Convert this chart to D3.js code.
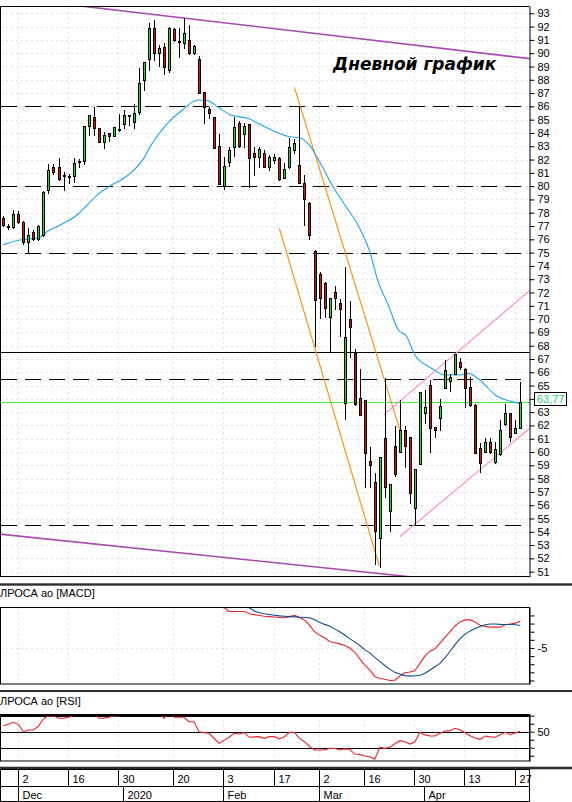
<!DOCTYPE html>
<html>
<head>
<meta charset="utf-8">
<title>АЛРОСА ао - Дневной график</title>
<script src="https://d3js.org/d3.v7.min.js"></script>
<style>
  body { margin: 0; background: #fff; }
  svg text { font-family: "Liberation Sans", Arial, sans-serif; }
</style>
</head>
<body>
<svg id="chart" width="572" height="802"></svg>
<script>
// ---- data (bar index 0 = 27 Nov 2019, 103 = 28 Apr 2020)
var candleOpen = [
  77.63, 76.93, 76.95, 77.88, 77.28, 75.82, 76.57, 76.02, 76.32, 79.71,
  81.46, 81.41, 80.82, 80.69, 80.79, 81.82, 81.89, 84.55, 85.17, 84.35,
  83.34, 83.97, 83.80, 84.28, 84.65, 85.33, 84.85, 85.60, 87.96, 89.54,
  91.87, 90.04, 90.44, 88.73, 91.79, 90.89, 90.74, 90.99, 89.99, 89.54,
  87.06, 85.80, 85.23, 83.02, 80.01, 81.84, 82.97, 84.72, 83.92, 84.67,
  82.47, 82.22, 82.52, 81.41, 81.97, 82.09, 80.59, 81.46, 82.72, 81.59,
  80.21, 78.76, 75.12, 73.37, 72.69, 70.13, 72.01, 71.18, 63.66, 69.98,
  67.47, 64.09, 63.91, 59.33, 57.72, 53.51, 61.03, 55.59, 60.46, 60.03,
  61.66, 61.11, 55.77, 59.10, 62.91, 65.04, 61.86, 62.54, 64.79, 65.34,
  65.84, 66.80, 66.22, 64.92, 63.54, 60.28, 60.03, 60.78, 59.28, 59.85,
  62.11, 62.96, 61.41, 61.78
];
var candleHigh = [
  77.75, 77.13, 78.20, 78.13, 77.38, 76.83, 76.70, 77.08, 79.63, 81.64,
  81.64, 82.09, 81.04, 80.89, 82.09, 82.04, 84.55, 85.35, 85.98, 84.37,
  84.05, 84.00, 84.47, 85.40, 85.73, 85.37, 86.15, 88.86, 89.31, 92.24,
  92.50, 90.62, 90.79, 91.99, 91.87, 91.87, 92.62, 92.12, 90.62, 89.79,
  87.11, 85.98, 85.23, 83.92, 82.22, 82.92, 85.17, 84.92, 84.72, 84.67,
  82.92, 82.92, 82.72, 82.34, 82.42, 82.22, 81.77, 83.60, 83.52, 85.98,
  80.84, 78.83, 75.20, 73.52, 72.82, 71.56, 72.51, 71.51, 73.89, 71.39,
  67.73, 66.22, 63.91, 60.40, 58.40, 59.65, 65.55, 57.60, 61.96, 63.91,
  61.96, 61.11, 58.70, 64.54, 64.67, 65.42, 61.86, 63.96, 66.90, 65.87,
  67.37, 67.05, 66.30, 65.67, 63.61, 60.70, 61.03, 61.03, 60.78, 62.41,
  63.61, 62.96, 62.41, 65.24
];
var candleLow = [
  76.97, 76.77, 76.83, 77.20, 75.67, 75.02, 75.92, 75.97, 76.27, 79.46,
  80.89, 80.46, 79.71, 80.21, 80.29, 81.46, 81.66, 83.85, 83.85, 83.30,
  82.89, 83.40, 83.78, 84.15, 84.35, 84.60, 84.40, 85.40, 87.23, 88.73,
  89.49, 89.04, 88.43, 88.61, 90.94, 89.69, 90.36, 89.94, 89.94, 86.98,
  84.72, 85.10, 82.84, 80.16, 79.76, 81.51, 82.27, 82.92, 82.97, 79.96,
  80.84, 81.41, 81.41, 81.21, 81.77, 80.46, 80.59, 81.34, 82.47, 80.21,
  77.08, 76.02, 67.98, 70.06, 70.13, 67.55, 70.76, 68.75, 62.46, 67.12,
  63.55, 62.79, 57.40, 57.40, 51.60, 51.33, 56.64, 54.09, 58.20, 60.03,
  58.90, 56.14, 54.62, 59.10, 62.16, 60.03, 61.16, 61.66, 64.79, 64.62,
  65.84, 66.22, 63.41, 63.46, 59.90, 58.52, 59.98, 59.95, 59.15, 59.78,
  62.03, 60.86, 61.41, 61.78
];
var candleClose = [
  77.08, 76.97, 77.88, 77.33, 75.77, 76.32, 76.02, 77.03, 79.58, 81.19,
  81.04, 80.51, 80.76, 80.73, 81.72, 81.86, 84.52, 85.35, 84.35, 83.34,
  83.85, 83.80, 84.47, 84.32, 85.35, 85.37, 85.48, 87.78, 89.31, 91.87,
  89.99, 90.36, 88.94, 91.87, 90.99, 90.85, 91.49, 89.99, 90.54, 86.98,
  85.98, 85.48, 82.84, 80.16, 81.51, 82.72, 84.42, 83.02, 84.52, 82.09,
  82.17, 82.77, 81.46, 82.22, 82.22, 80.51, 81.26, 82.97, 83.22, 80.21,
  79.00, 76.32, 71.43, 71.56, 70.81, 71.56, 71.61, 70.73, 68.63, 69.43,
  63.59, 62.79, 59.95, 59.03, 54.06, 59.65, 57.35, 57.60, 58.35, 61.66,
  60.46, 56.90, 58.70, 64.54, 63.41, 61.78, 61.66, 63.46, 66.20, 65.67,
  67.37, 66.37, 64.79, 63.54, 59.90, 59.20, 60.78, 60.03, 60.23, 61.66,
  62.91, 61.11, 61.78, 63.77
];

// moving average (blue), sampled along the line: bar index / price
var maIdx = [0, 3.3, 5, 7, 8.7, 11.3, 14.7, 16.7, 18.7, 21.3, 24, 26, 28, 29.3, 32.7, 35.7, 38.7, 40.7,
  42.7, 45.3, 48.7, 52.7, 57, 59, 61, 63, 65.7, 68.3, 71, 73, 74.7, 76.7, 78.7, 80.3, 82, 85.3, 88,
  90.7, 92.7, 95.3, 98, 101.3, 103.3];
var maVal = [75.6, 75.95, 76.02, 76.12, 76.57, 77.08, 77.83, 78.58, 79.33, 80.03, 80.59, 81.21, 82.09, 83.0,
  84.73, 85.73, 86.48, 86.43, 85.97, 85.35, 85.10, 84.35, 83.72, 83.64, 83.09, 81.84, 79.96, 78.45, 76.83,
  75.07, 72.79, 71.06, 69.18, 68.73, 67.30, 66.30, 65.79, 65.79, 65.92, 65.29, 64.29, 63.79, 63.61];

// MACD (red) from bar 40, signal (blue) from bar 44
var macdStart = 40;
var macdVal = [0.8, 0.6, 0.4, 0.2, -0.05, -0.5, -0.52, -0.52, -0.52, -0.8,
  -0.9, -1.0, -1.1, -1.15, -1.2, -1.25, -1.29, -1.15, -1.0, -1.25,
  -1.55, -2.2, -3.0, -3.45, -3.75, -4.2, -4.35, -4.5, -4.7, -5.0,
  -5.5, -6.3, -7.1, -7.7, -8.5, -8.75, -8.85, -9.0, -8.95, -8.45,
  -8.05, -7.95, -7.8, -6.9, -6.0, -5.4, -5.1, -4.4, -3.7, -3.0,
  -2.3, -1.8, -1.55, -1.55, -1.8, -2.2, -2.35, -2.44, -2.44, -2.44,
  -2.15, -2.05, -1.95, -1.7];
var signalStart = 44;
var signalVal = [0.6, 0.5, 0.4, 0.3, 0.15, -0.05, -0.45, -0.68, -0.8, -0.89,
  -0.97, -1.05, -1.1, -1.15, -1.18, -1.22, -1.25, -1.29, -1.5, -1.83,
  -2.1, -2.3, -2.65, -3.0, -3.4, -3.85, -4.25, -4.7, -5.2, -5.6,
  -6.15, -6.65, -7.15, -7.6, -8.0, -8.2, -8.4, -8.43, -8.45, -8.35,
  -8.1, -7.7, -7.3, -6.9, -6.2, -5.4, -4.6, -3.85, -3.3, -2.9,
  -2.6, -2.35, -2.15, -2.05, -2.05, -2.1, -2.11, -2.11, -2.15, -2.23];

// RSI, one value per bar
var rsiVal = [57.5, 59.2, 61.7, 59.2, 50, 52.1, 52.1, 57, 66, 70,
  69.6, 66.7, 66.7, 68, 70, 74, 76, 77, 75, 66.7,
  66.7, 68, 69.6, 69.6, 74, 76, 77, 80, 82, 80,
  78, 76, 66.7, 74, 68, 68, 68, 62.5, 62.5, 50,
  48.8, 48, 41.5, 35.4, 39.5, 43, 48, 47.1, 48.8, 43,
  43.5, 43.8, 41.7, 43.8, 43.8, 40.9, 43.8, 49.2, 49.2, 41.7,
  37.5, 31.5, 27.1, 27.1, 27.1, 29.2, 29.2, 27.1, 28.5, 28,
  22.1, 21.7, 19.6, 18.8, 15.5, 30.4, 29.2, 30.4, 35, 38.8,
  37.5, 34.6, 37.5, 49.2, 46, 44.6, 44.6, 48, 50.9, 51.3,
  54.2, 52.1, 48.8, 45, 42, 40.5, 44.6, 43.5, 43, 46.3,
  49.2, 46.3, 48.5, 50.5];

// date axis
var tickIdx = [3, 13, 23, 34, 44, 54, 63, 72, 82, 92, 102];
var tickLabels = ["2", "16", "30", "20", "3", "17", "2", "16", "30", "13", "27"];
var monthIdx = [3, 24, 44, 63, 84];
var monthLabels = ["Dec", "2020", "Feb", "Mar", "Apr"];

// price levels and drawn lines [bar index, price]
var priceTicks = d3.range(51, 94);
var hiddenPriceLabel = 64; // covered by the last-price tag
var dashedLevels = [86, 80, 75, 65.5, 54.5];
var solidLevel = 67.5;
var lastPrice = 63.77;
var purpleTop = [[10, 93.79], [106, 89.54]];
var purpleBottom = [[-1, 53.84], [85, 50.46]];
var orangeA = [[58.0, 87.43], [79.0, 61.66]];
var orangeB = [[55.0, 76.83], [74.9, 51.43]];
var pinkUpper = [[75.8, 62.80], [106, 72.51]];
var pinkLower = [[79.0, 53.63], [106, 62.15]];

var macdTicks = [-1, -2, -3, -4, -5, -6, -7, -8, -9];
var rsiTicks = [70, 60, 50, 40, 30, 20];
var rsiLevels = [70, 50, 30];

// ---- layout
var svg = d3.select("#chart");
var R = 529.5;
var green = "#1fe01f", red = "#e01010";

var x = d3.scaleLinear().domain([0, 102]).range([3.3, 515.3]);
var y = d3.scaleLinear().domain([93.55, 50.6]).range([6, 577]);
var yMacd = d3.scaleLinear().domain([0, -9.43]).range([607.3, 684]);
var yRsi = d3.scaleLinear().domain([72.1, 13.4]).range([714, 761]);

function px(v) { return Math.round(v) + 0.5; }
function sepX(k) { return Math.round(x(k) - 0.8) + 0.5; }

var defs = svg.append("defs");
function clip(id, y0, h) {
  defs.append("clipPath").attr("id", id).append("rect")
    .attr("x", 0.5).attr("y", y0).attr("width", R - 0.5).attr("height", h);
}
clip("clipMain", 6.5, 570);
clip("clipMacd", 607.5, 76.5);
clip("clipRsi", 714.5, 46.5);

function hline(g, yy, x1, x2, color, dash, w) {
  g.append("line").attr("x1", x1).attr("x2", x2).attr("y1", yy).attr("y2", yy)
    .attr("stroke", color).attr("stroke-width", w || 1)
    .attr("stroke-dasharray", dash || null);
}
function vline(g, xx, y1, y2, color, dash) {
  g.append("line").attr("x1", xx).attr("x2", xx).attr("y1", y1).attr("y2", y2)
    .attr("stroke", color).attr("stroke-dasharray", dash || null);
}

// ---- main panel
var main = svg.append("g");
var grid = main.append("g");
priceTicks.forEach(function(p) { hline(grid, px(y(p)), 1, R, "#e2e2e2", "2,3"); });
tickIdx.forEach(function(k) { vline(grid, sepX(k), 7, 576, "#e2e2e2", "2,3"); });

var lv = main.append("g");
dashedLevels.forEach(function(p) { hline(lv, px(y(p)), 1, R, "#000", "16,8"); });
hline(lv, px(y(solidLevel)), 1, R, "#000");
hline(lv, px(y(lastPrice)), 1, R, "#3ef03e");

var lineGen = d3.line().x(function(d) { return x(d[0]); }).y(function(d) { return y(d[1]); });
var trend = main.append("g").attr("clip-path", "url(#clipMain)").attr("fill", "none");
trend.append("path").attr("d", lineGen(purpleTop)).attr("stroke", "#a64cb0").attr("stroke-width", 1.6);
trend.append("path").attr("d", lineGen(purpleBottom)).attr("stroke", "#a64cb0").attr("stroke-width", 1.6);
trend.append("path").attr("d", lineGen(orangeA)).attr("stroke", "#ff8a00").attr("stroke-width", 1.1);
trend.append("path").attr("d", lineGen(orangeB)).attr("stroke", "#ff8a00").attr("stroke-width", 1.1);
trend.append("path").attr("d", lineGen(pinkUpper)).attr("stroke", "#ff86c8").attr("stroke-width", 1.1);
trend.append("path").attr("d", lineGen(pinkLower)).attr("stroke", "#ff86c8").attr("stroke-width", 1.1);

var maPts = maIdx.map(function(k, i) { return [k, maVal[i]]; });
trend.append("path").attr("d", lineGen.curve(d3.curveMonotoneX)(maPts))
  .attr("stroke", "#1ea4ea").attr("stroke-width", 1.1);
lineGen.curve(d3.curveLinear);

var bars = candleOpen.map(function(o, i) {
  return { i: i, o: o, h: candleHigh[i], l: candleLow[i], c: candleClose[i] };
});
var cg = main.append("g").attr("clip-path", "url(#clipMain)");
cg.selectAll("line.wick").data(bars).join("line").attr("class", "wick")
  .attr("x1", function(d) { return px(x(d.i)); })
  .attr("x2", function(d) { return px(x(d.i)); })
  .attr("y1", function(d) { return Math.round(y(d.h)); })
  .attr("y2", function(d) { return Math.round(y(d.l)) + 1; })
  .attr("stroke", "#000");
cg.selectAll("rect.body").data(bars).join("rect").attr("class", "body")
  .attr("x", function(d) { return Math.round(x(d.i)) - 0.5; })
  .attr("y", function(d) { return Math.round(y(Math.max(d.o, d.c))) + 0.5; })
  .attr("width", 2)
  .attr("height", function(d) {
    return Math.max(1, Math.round(y(Math.min(d.o, d.c))) - Math.round(y(Math.max(d.o, d.c))));
  })
  .attr("fill", function(d) { return d.c >= d.o ? green : red; })
  .attr("stroke", "#000");

// frame + price axis
hline(main, 6.5, 0, R, "#000");
hline(main, 576.5, 0, R, "#000");
vline(main, 0.5, 6, 577, "#000");

function styleAxis(g) {
  g.select(".domain").attr("stroke", "#000");
  g.selectAll(".tick line").attr("stroke", "#000");
  g.selectAll(".tick text").attr("fill", "#000").attr("font-size", 11)
    .attr("font-family", "'Liberation Sans', Arial, sans-serif");
}
main.append("g").attr("transform", "translate(" + R + ",0)")
  .call(d3.axisRight(y).tickValues(priceTicks).tickSize(5).tickSizeOuter(0).tickPadding(3)
    .tickFormat(function(d) { return d === hiddenPriceLabel ? "" : String(d); }))
  .call(styleAxis);

main.append("text").attr("x", 333).attr("y", 70)
  .attr("font-size", 17).attr("font-weight", "bold").attr("font-style", "italic")
  .style("font-family", "'DejaVu Sans', Verdana, sans-serif")
  .text("Дневной график");

// last price tag
main.append("rect").attr("x", 534.5).attr("y", 392.5).attr("width", 32).attr("height", 13)
  .attr("fill", "#fff").attr("stroke", "#000");
main.append("text").attr("x", 537).attr("y", 403).attr("font-size", 11)
  .attr("fill", "#22d36a").text(lastPrice.toFixed(2).replace(".", ","));

// ---- panel separators
svg.append("rect").attr("x", 0).attr("y", 583.3).attr("width", 572).attr("height", 2.4).attr("fill", "#2e2e2e");
svg.append("rect").attr("x", 0).attr("y", 690).attr("width", 572).attr("height", 2).attr("fill", "#2e2e2e");
svg.append("rect").attr("x", 0).attr("y", 766.7).attr("width", 572).attr("height", 2.6).attr("fill", "#2e2e2e");

// ---- MACD panel
var mp = svg.append("g");
mp.append("text").attr("x", 0).attr("y", 597).attr("font-size", 11).text("ЛРОСА ао [MACD]");
tickIdx.forEach(function(k) { vline(mp, sepX(k), 608, 684, "#e4e4e4", "2,3"); });
hline(mp, px(yMacd(-5)), 1, R, "#e4e4e4", "2,3");
var mLine = d3.line().x(function(d) { return x(d[0]); }).y(function(d) { return yMacd(d[1]); });
var mc = mp.append("g").attr("clip-path", "url(#clipMacd)").attr("fill", "none");
mc.append("path").attr("d", mLine(macdVal.map(function(v, i) { return [macdStart + i, v]; })))
  .attr("stroke", "#e8262a").attr("stroke-width", 1.1);
mc.append("path").attr("d", mLine(signalVal.map(function(v, i) { return [signalStart + i, v]; })))
  .attr("stroke", "#0e4a94").attr("stroke-width", 1.1);
mp.append("rect").attr("x", 0.5).attr("y", 607.5).attr("width", R - 0.5).attr("height", 76.5)
  .attr("fill", "none").attr("stroke", "#000");
mp.append("g").attr("transform", "translate(" + R + ",0)")
  .call(d3.axisRight(yMacd).tickValues(macdTicks).tickSize(5).tickSizeOuter(0).tickPadding(3)
    .tickFormat(function(d) { return d === -5 ? "-5" : ""; }))
  .call(styleAxis);

// ---- RSI panel
var rp = svg.append("g");
rp.append("text").attr("x", 0).attr("y", 704.5).attr("font-size", 11).text("ЛРОСА ао [RSI]");
tickIdx.forEach(function(k) { vline(rp, sepX(k), 715, 761, "#e4e4e4", "2,3"); });
rsiLevels.forEach(function(v) { hline(rp, px(yRsi(v)), 1, R, "#000"); });
var rLine = d3.line().x(function(d, i) { return x(i); }).y(function(d) { return yRsi(d); });
rp.append("g").attr("clip-path", "url(#clipRsi)").append("path").attr("d", rLine(rsiVal))
  .attr("fill", "none").attr("stroke", "#e8262a").attr("stroke-width", 1.1);
rp.append("rect").attr("x", 0.5).attr("y", 714.5).attr("width", R - 0.5).attr("height", 46.5)
  .attr("fill", "none").attr("stroke", "#000");
hline(rp, 715.5, 0, R, "#000");
rp.append("g").attr("transform", "translate(" + R + ",0)")
  .call(d3.axisRight(yRsi).tickValues(rsiTicks).tickSize(5).tickSizeOuter(0).tickPadding(3)
    .tickFormat(function(d) { return d === 50 ? "50" : ""; }))
  .call(styleAxis);

// ---- date axis
var da = svg.append("g");
hline(da, 769.5, 0, R, "#000");
hline(da, 786.5, 0, R, "#000");
hline(da, 801.5, 0, R, "#000");
vline(da, 0.5, 769, 802, "#000");
vline(da, R, 769, 802, "#000");
tickIdx.forEach(function(k, i) {
  vline(da, sepX(k), 769, 786.5, "#000");
  da.append("text").attr("x", sepX(k) + 4).attr("y", 783).attr("font-size", 11).text(tickLabels[i]);
});
monthIdx.forEach(function(k, i) {
  vline(da, sepX(k), 786.5, 802, "#000");
  da.append("text").attr("x", sepX(k) + 4).attr("y", 798.5).attr("font-size", 11).text(monthLabels[i]);
});
</script>
</body>
</html>
